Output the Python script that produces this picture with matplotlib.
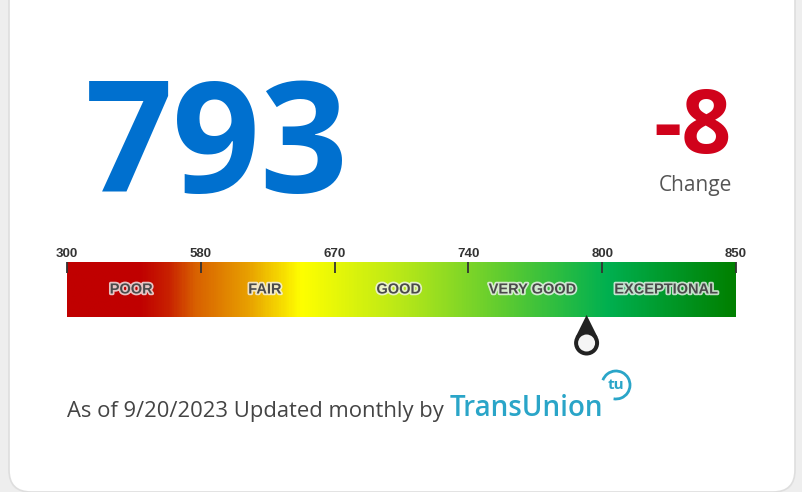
import numpy as np
import matplotlib
matplotlib.use("Agg")
import matplotlib.pyplot as plt
import matplotlib.patheffects as pe
from matplotlib.colors import LinearSegmentedColormap
from matplotlib.patches import FancyBboxPatch, Circle, Polygon, Arc
from matplotlib.transforms import Affine2D, ScaledTranslation

# data
score = 793
change = -8
tick_values = [300, 580, 670, 740, 800, 850]
band_labels = ["POOR", "FAIR", "GOOD", "VERY GOOD", "EXCEPTIONAL"]
as_of = "9/20/2023"

grad_stops = [0.0, 0.108, 0.15, 0.19, 0.27, 0.35, 0.5, 0.65, 0.81, 1.0]
grad_colors = ["#c00000", "#c00000", "#c82000", "#d86000", "#e8a000",
               "#ffff00", "#b8e818", "#60cc30", "#00b050", "#008000"]

W, H = 802, 492
fig = plt.figure(figsize=(W / 100, H / 100), dpi=100)
fig.patch.set_facecolor("#eeeeee")

# background / card axes in pixel coordinates
bg = fig.add_axes([0, 0, 1, 1])
bg.set_xlim(0, W)
bg.set_ylim(H, 0)
bg.axis("off")

card = FancyBboxPatch((9, -30), 786, 522, boxstyle="round,pad=0,rounding_size=22",
                      facecolor="white", edgecolor="#dedede", linewidth=1.2)
bg.add_patch(card)

bg.text(85, 192, str(score), color="#0070cf", fontsize=111, fontweight="bold",
        family="Open Sans", ha="left", va="baseline")
bg.text(732, 153.5, f"{change:d}", color="#d0021b", fontsize=63, fontweight="bold",
        family="Open Sans", ha="right", va="baseline")
bg.text(732, 191, "Change", color="#555555", fontsize=15,
        family="Open Sans", ha="right", va="baseline")

bg.text(67, 417, f"As of {as_of} Updated monthly by", color="#444444", fontsize=15.8,
        family="Open Sans", ha="left", va="baseline")
logo_color = "#2aa5c8"
bg.text(450, 416, "TransUnion", color=logo_color, fontsize=20, fontweight="semibold",
        family="Open Sans", ha="left", va="baseline")
bg.add_patch(Arc((616, 385), 28, 28, theta1=200, theta2=460, color=logo_color, linewidth=2))
bg.text(616, 385, "tu", color=logo_color, fontsize=11, fontweight="bold",
        family="Open Sans", ha="center", va="center")

# gauge axes: bar from x 67..736, y 262..317 (pixels)
ax = fig.add_axes([67 / W, 1 - 317 / H, 669 / W, 55 / H])
idx = np.arange(len(tick_values))
ax.set_xlim(idx[0], idx[-1])
ax.set_ylim(0, 1)
ax.axis("off")

cmap = LinearSegmentedColormap.from_list("credit", list(zip(grad_stops, grad_colors)))
grad = np.linspace(0, 1, 600).reshape(1, -1)
ax.imshow(grad, cmap=cmap, extent=[idx[0], idx[-1], 0, 1], aspect="auto", interpolation="bilinear")

for i, v in zip(idx, tick_values):
    ax.plot([i, i], [1, 0.8], color="#333333", linewidth=1.3, clip_on=False, solid_capstyle="butt")
    ax.annotate(str(v), (i, 1), xytext=(0, 5), textcoords="offset pixels",
                ha="center", va="baseline", fontsize=9.5, fontweight="bold",
                family="Liberation Sans", color="#333333", annotation_clip=False)

halo = [pe.withStroke(linewidth=2.5, foreground="#f4f4f4", alpha=0.8)]
for i, lab in enumerate(band_labels):
    ax.text(i + 0.48, 0.5, lab, ha="center", va="center", fontsize=10.5, fontweight="bold",
            family="Liberation Sans", color="#4a4a4a", path_effects=halo)

# pointer below the bar at the score position
mx = np.interp(score, tick_values, idx)
tr = Affine2D() + ScaledTranslation(mx, 0, ax.transData)
r_out, r_in, d = 12.5, 8.5, 26
alpha = np.arccos(r_out / d)
tx, ty = r_out * np.sin(alpha), -d + r_out * np.cos(alpha)
ax.add_patch(Polygon([(0, 2), (tx, ty), (-tx, ty)], closed=True, facecolor="#222222",
                     edgecolor="none", transform=tr, clip_on=False))
ax.add_patch(Circle((0, -d), r_out, facecolor="#222222", edgecolor="none",
                    transform=tr, clip_on=False))
ax.add_patch(Circle((0, -d), r_in, facecolor="#f5f5f5", edgecolor="none",
                    transform=tr, clip_on=False))

fig.savefig("out.png", dpi=100, facecolor=fig.get_facecolor())
